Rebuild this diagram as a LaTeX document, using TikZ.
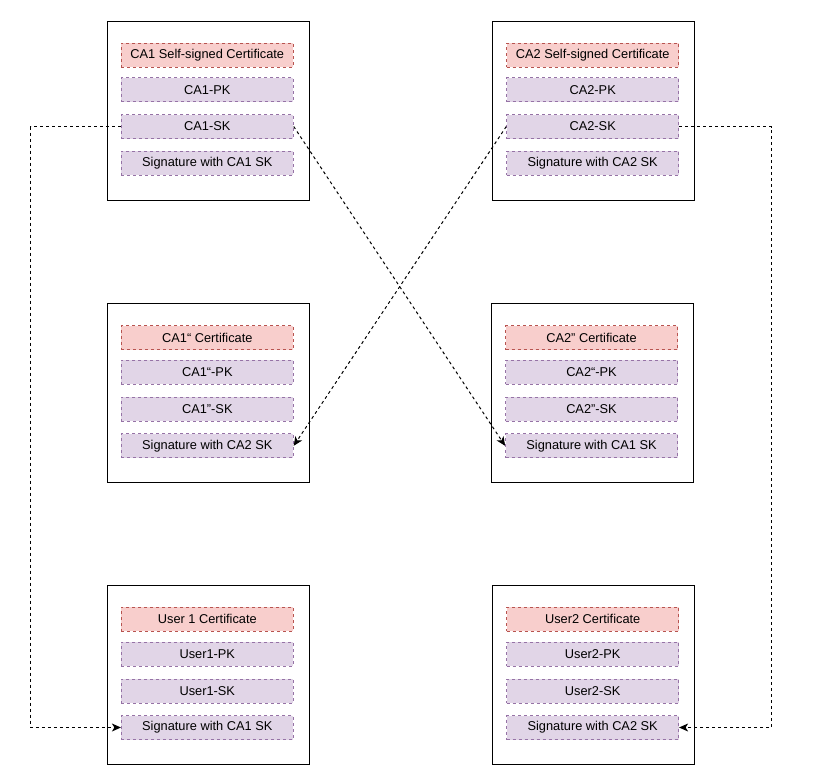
\documentclass[tikz,border=0pt]{standalone}
\usepackage{fontspec}
\setmainfont{Liberation Sans}
\usetikzlibrary{arrows.meta}
\definecolor{certfill}{HTML}{F8CECC}
\definecolor{certdraw}{HTML}{B85450}
\definecolor{keyfill}{HTML}{E1D5E7}
\definecolor{keydraw}{HTML}{9673A6}
\tikzset{
  outerbox/.style={draw=black, line width=1pt, fill=white, minimum width=202pt, minimum height=179pt, inner sep=0pt},
  inbox/.style={line width=0.8pt, dash pattern=on 3pt off 3pt, minimum width=172pt, minimum height=24pt, inner sep=0pt, font=\fontsize{12.8}{15}\selectfont},
  certbox/.style={inbox, draw=certdraw, fill=certfill},
  keybox/.style={inbox, draw=keydraw, fill=keyfill},
  link/.style={draw=black, line width=1pt, dash pattern=on 3pt off 3pt, -{Stealth[length=9pt,width=8pt,inset=2.5pt]}}
}
\begin{document}
\begin{tikzpicture}[x=1pt,y=-1pt]
\useasboundingbox (0,0) rectangle (820,782);
% outer boxes
\node[outerbox] (b1) at (208.3,110.5) {};
\node[outerbox] (b2) at (593.7,110.5) {};
\node[outerbox] (b3) at (208.3,393) {};
\node[outerbox] (b4) at (592.5,393) {};
\node[outerbox] (b5) at (208.3,674.5) {};
\node[outerbox] (b6) at (593.7,674.5) {};
% CA1
\node[certbox] (a1c) at (207.3,55) {CA1 Self-signed Certificate};
\node[keybox] (a1pk) at (207.3,89.7) {CA1-PK};
\node[keybox] (a1sk) at (207.3,126.5) {CA1-SK};
\node[keybox] (a1sig) at (207.3,163) {Signature with CA1 SK};
% CA2
\node[certbox] (a2c) at (592.7,55) {CA2 Self-signed Certificate};
\node[keybox] (a2pk) at (592.7,89.7) {CA2-PK};
\node[keybox] (a2sk) at (592.7,126.5) {CA2-SK};
\node[keybox] (a2sig) at (592.7,163) {Signature with CA2 SK};
% CA1''
\node[certbox] (m1c) at (207.3,337.5) {CA1“ Certificate};
\node[keybox] (m1pk) at (207.3,372.2) {CA1“-PK};
\node[keybox] (m1sk) at (207.3,409) {CA1”-SK};
\node[keybox] (m1sig) at (207.3,445.8) {Signature with CA2 SK};
% CA2''
\node[certbox] (m2c) at (591.5,337.5) {CA2" Certificate};
\node[keybox] (m2pk) at (591.5,372.2) {CA2“-PK};
\node[keybox] (m2sk) at (591.5,409) {CA2”-SK};
\node[keybox] (m2sig) at (591.5,445.8) {Signature with CA1 SK};
% User1
\node[certbox] (u1c) at (207.3,619.3) {User 1 Certificate};
\node[keybox] (u1pk) at (207.3,654) {User1-PK};
\node[keybox] (u1sk) at (207.3,691) {User1-SK};
\node[keybox] (u1sig) at (207.3,727.5) {Signature with CA1 SK};
% User2
\node[certbox] (u2c) at (592.7,619.3) {User2 Certificate};
\node[keybox] (u2pk) at (592.7,654) {User2-PK};
\node[keybox] (u2sk) at (592.7,691) {User2-SK};
\node[keybox] (u2sig) at (592.7,727.5) {Signature with CA2 SK};
% connectors
\draw[link] (a1sk.west) -- ++(-90,0) |- (u1sig.west);
\draw[link] (a2sk.east) -- ++(92.5,0) |- (u2sig.east);
\draw[link] (a1sk.east) -- (m2sig.west);
\draw[link] (a2sk.west) -- (m1sig.east);
\end{tikzpicture}
\end{document}
